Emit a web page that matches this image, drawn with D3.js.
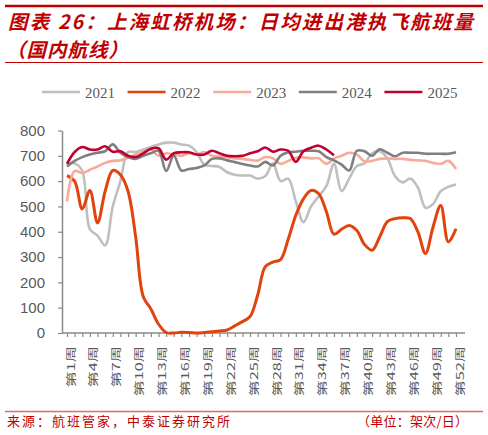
<!DOCTYPE html>
<html>
<head>
<meta charset="utf-8">
<script src="https://cdn.jsdelivr.net/npm/d3@7"></script>
<style>
  body { margin: 0; background: #fff; }
  svg { display: block; }
</style>
</head>
<body>
<svg id="chart"></svg>
<script>
const weeks = d3.range(1, 53).map((w) => `第${w}周`);
const years = ['2021', '2022', '2023', '2024', '2025'];
const colors = ['#bfbfbf', '#e2430c', '#f7ab98', '#7f7f7f', '#c00032'];
const yTicks = [0, 100, 200, 300, 400, 500, 600, 700, 800];

const v2021 = [668, 670, 640, 410, 385, 346, 500, 600, 715, 715, 725, 735, 745, 752, 752, 745, 740, 714, 665, 660,
  656, 635, 625, 622, 622, 610, 620, 670, 600, 610, 520, 438, 500, 540, 580, 668, 560, 610, 660, 670,
  710, 718, 690, 620, 595, 610, 575, 495, 510, 560, 578, 587];
const v2022 = [622, 600, 490, 563, 435, 560, 642, 625, 560, 380, 143, 95, 35, 2, 0, 3, 2, 0, 2, 5,
  8, 12, 28, 45, 65, 150, 262, 280, 290, 370, 465, 530, 563, 550, 480, 390, 410, 425, 405, 350,
  327, 380, 440, 452, 455, 452, 400, 314, 420, 504, 360, 412];
const v2023 = [520, 640, 632, 645, 658, 672, 680, 682, 692, 705, 715, 725, 700, 710, 705, 700, 710, 705, 715, 700,
  698, 694, 690, 688, 684, 681, 695, 690, 668, 680, 692, 694, 690, 690, 668, 690, 700, 712, 705, 678,
  680, 688, 690, 688, 688, 684, 682, 680, 672, 668, 680, 648];
const v2024 = [658, 680, 695, 705, 712, 718, 745, 712, 695, 688, 700, 710, 720, 640, 700, 642, 648, 652, 662, 688,
  690, 682, 675, 668, 662, 658, 676, 662, 700, 714, 716, 720, 720, 718, 695, 682, 665, 642, 720, 718,
  700, 726, 712, 698, 712, 712, 712, 708, 708, 708, 708, 714];
const v2025 = [668, 715, 735, 725, 725, 738, 716, 718, 700, 695, 710, 728, 730, 685, 710, 714, 714, 705, 705, 720,
  710, 700, 698, 700, 710, 718, 733, 716, 725, 720, 676, 718, 732, 740, 725, 702];

const series = [v2021, v2022, v2023, v2024, v2025];

const W = 488, H = 435;
const red = '#c00000';
const grey = '#595959';

const svg = d3.select('#chart').attr('width', W).attr('height', H);

// header
svg.append('line').attr('x1', 5).attr('x2', 483).attr('y1', 6).attr('y2', 6)
  .attr('stroke', red).attr('stroke-width', 2.5);
svg.append('text')
  .attr('x', 8).attr('y', 29)
  .attr('textLength', 465).attr('lengthAdjust', 'spacing')
  .attr('fill', red)
  .style('font-family', '"Noto Sans CJK SC", sans-serif')
  .style('font-size', '19.5px').style('font-style', 'italic').style('font-weight', 'bold')
  .text('图表 26：上海虹桥机场：日均进出港执飞航班量');
svg.append('text')
  .attr('x', 6).attr('y', 57)
  .attr('textLength', 122).attr('lengthAdjust', 'spacing')
  .attr('fill', red)
  .style('font-family', '"Noto Sans CJK SC", sans-serif')
  .style('font-size', '19.5px').style('font-style', 'italic').style('font-weight', 'bold')
  .text('（国内航线）');
svg.append('line').attr('x1', 5).attr('x2', 483).attr('y1', 62.5).attr('y2', 62.5)
  .attr('stroke', red).attr('stroke-width', 1);

// legend
const legend = svg.append('g').attr('transform', 'translate(42, 92)');
years.forEach((y, i) => {
  const g = legend.append('g').attr('transform', `translate(${i * 85.6}, 0)`);
  g.append('line').attr('x1', 0).attr('x2', 38).attr('y1', 0).attr('y2', 0)
    .attr('stroke', colors[i]).attr('stroke-width', 2.5);
  g.append('text').attr('x', 43).attr('y', 5.5)
    .attr('fill', grey)
    .style('font-family', '"Liberation Serif", serif').style('font-size', '15px')
    .text(y);
});

// scales
const xScale = d3.scalePoint().domain(weeks).range([67, 456]);
const yScale = d3.scaleLinear().domain([0, 800]).range([333, 130.5]);

const axisColor = '#8a8a8a';

const yAxis = svg.append('g')
  .attr('transform', 'translate(62, 0)')
  .call(d3.axisLeft(yScale).tickValues(yTicks).tickSize(4).tickPadding(13).tickSizeOuter(0));
yAxis.select('.domain').attr('stroke', axisColor).attr('stroke-width', 1.5);
yAxis.selectAll('.tick line').attr('stroke', axisColor).attr('stroke-width', 1.2);
yAxis.selectAll('.tick text')
  .attr('fill', grey)
  .style('font-family', '"Liberation Sans", Arial, sans-serif').style('font-size', '15px');

const xAxis = svg.append('g')
  .attr('transform', 'translate(0, 333)')
  .call(d3.axisBottom(xScale).tickSize(4).tickFormat(''));
xAxis.select('.domain').remove();
xAxis.selectAll('.tick line').attr('stroke', axisColor).attr('stroke-width', 1.2);
xAxis.append('line')
  .attr('x1', 62).attr('x2', 465).attr('y1', 0).attr('y2', 0)
  .attr('stroke', axisColor).attr('stroke-width', 1.5);

svg.append('g').selectAll('text')
  .data(weeks.filter((w, i) => i % 3 === 0))
  .enter()
  .append('text')
  .attr('transform', (w) => `translate(${xScale(w) + 3}, 346) rotate(-90) scale(1.05, 0.68)`)
  .attr('text-anchor', 'end')
  .attr('dominant-baseline', 'central')
  .attr('fill', grey)
  .style('font-family', '"Noto Sans CJK SC", sans-serif').style('font-size', '15.5px')
  .text((w) => w);

// lines
const line = d3.line()
  .x((d, i) => xScale(weeks[i]))
  .y((d) => yScale(d))
  .curve(d3.curveCatmullRom);

svg.append('g').selectAll('path')
  .data(series)
  .enter()
  .append('path')
  .attr('d', (s) => line(s))
  .attr('fill', 'none')
  .attr('stroke', (s, i) => colors[i])
  .attr('stroke-width', (s, i) => i === 1 ? 3 : 2.6)
  .attr('stroke-linejoin', 'round');

// footer
svg.append('line').attr('x1', 5).attr('x2', 483).attr('y1', 411.5).attr('y2', 411.5)
  .attr('stroke', '#e06a6a').attr('stroke-width', 1.5);
svg.append('text')
  .attr('x', 7).attr('y', 426)
  .attr('textLength', 223).attr('lengthAdjust', 'spacing')
  .attr('fill', red)
  .style('font-family', '"Noto Sans CJK SC", sans-serif').style('font-size', '13px')
  .text('来源：航班管家，中泰证券研究所');
svg.append('text')
  .attr('x', 357).attr('y', 426)
  .attr('textLength', 111).attr('lengthAdjust', 'spacing')
  .attr('fill', red)
  .style('font-family', '"Noto Sans CJK SC", sans-serif').style('font-size', '13px')
  .text('（单位：架次/日）');
</script>
</body>
</html>
